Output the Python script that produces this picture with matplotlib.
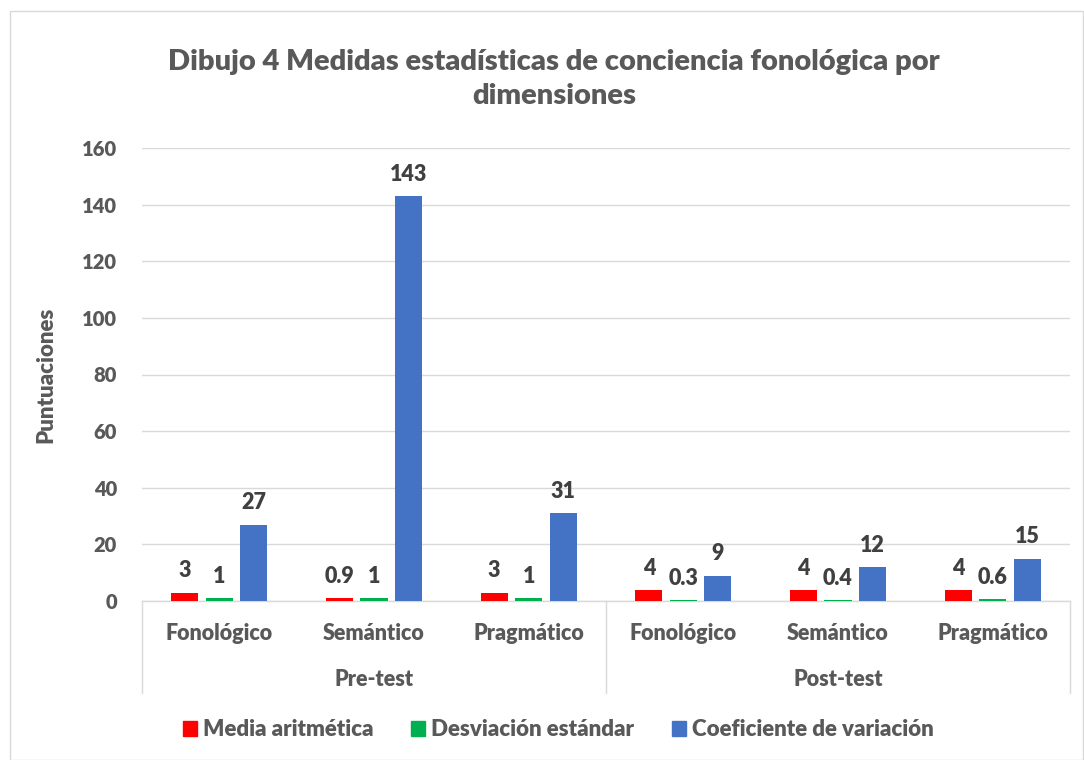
import matplotlib
matplotlib.use("Agg")
import matplotlib.pyplot as plt
from matplotlib.patches import Rectangle, Patch
from matplotlib.lines import Line2D
import numpy as np

plt.rcParams['font.family'] = ['Lato', 'DejaVu Sans']

categories = ["Fonológico", "Semántico", "Pragmático", "Fonológico", "Semántico", "Pragmático"]
groups = ["Pre-test", "Post-test"]
media = [3, 0.9, 3, 4, 4, 4]
desviacion = [1, 1, 1, 0.3, 0.4, 0.6]
coeficiente = [27, 143, 31, 9, 12, 15]
media_labels = ["3", "0.9", "3", "4", "4", "4"]
desv_labels = ["1", "1", "1", "0.3", "0.4", "0.6"]
coef_labels = ["27", "143", "31", "9", "12", "15"]
series_names = ["Media aritmética", "Desviación estándar", "Coeficiente de variación"]
colors = ["#FF0000", "#00B050", "#4472C4"]
yticks = [0, 20, 40, 60, 80, 100, 120, 140, 160]

W, H = 1084, 760
FW = "heavy"
fig = plt.figure(figsize=(W / 100, H / 100), dpi=100)
fig.patches.append(Rectangle((10 / W, 0.5 / H), (W - 11) / W, (H - 11) / H,
                             transform=fig.transFigure, fill=False,
                             edgecolor="#D9D9D9", linewidth=1))

left, right, top, bottom = 142, 1070, 148, 601
ax = fig.add_axes([left / W, 1 - bottom / H, (right - left) / W, (bottom - top) / H])

x = np.arange(len(categories))
bw = 0.175
off = 0.223
txt = "#404040"
lab = "#595959"
for vals, labels, col, dx in [(media, media_labels, colors[0], -off),
                              (desviacion, desv_labels, colors[1], 0),
                              (coeficiente, coef_labels, colors[2], off)]:
    bars = ax.bar(x + dx, vals, bw, color=col, zorder=3)
    for b, l in zip(bars, labels):
        ax.annotate(l, (b.get_x() + b.get_width() / 2, b.get_height()),
                    xytext=(0, 8), textcoords="offset points", ha="center", va="bottom",
                    fontsize=15.5, fontweight=FW, color=txt)

ax.set_xlim(-0.5, len(categories) - 0.5)
ax.set_ylim(0, 160)
ax.set_yticks(yticks)
ax.set_yticklabels([str(t) for t in yticks], fontsize=14.5, fontweight=FW, color=lab)
ax.tick_params(axis="y", length=0, pad=18)
ax.set_xticks([])
ax.grid(axis="y", color="#D9D9D9", linewidth=1, zorder=0)
for s in ["top", "right", "left"]:
    ax.spines[s].set_visible(False)
ax.spines["bottom"].set_color("#D9D9D9")
ax.spines["bottom"].set_linewidth(1)
ax.set_ylabel("Puntuaciones", fontsize=16, fontweight=FW, color=lab, labelpad=18)

# Multi-level category axis
trans = ax.get_xaxis_transform()
cat_y = -(633 - bottom) / (bottom - top)
grp_y = -(680 - bottom) / (bottom - top)
line_bottom = -(693 - bottom) / (bottom - top)
for i, c in enumerate(categories):
    ax.text(i, cat_y, c, transform=trans, ha="center", va="center",
            fontsize=15.5, fontweight=FW, color=lab)
for g, gi in enumerate(groups):
    ax.text(g * 3 + 1, grp_y, gi, transform=trans, ha="center", va="center",
            fontsize=15.5, fontweight=FW, color=lab)
for xv in [-0.5, 2.5, 5.5]:
    ax.add_line(Line2D([xv, xv], [0, line_bottom], transform=trans, color="#D9D9D9",
                       linewidth=1, clip_on=False))

fig.text(554 / W, 1 - 79 / H, "Dibujo 4 Medidas estadísticas de conciencia fonológica por\ndimensiones",
         ha="center", va="center", fontsize=21, fontweight=FW, color=lab, linespacing=1.4)

handles = [Patch(color=c) for c in colors]
fig.legend(handles, series_names, loc="center", bbox_to_anchor=(558 / W, 1 - 730 / H),
           ncol=3, frameon=False, prop={"weight": FW, "size": 16},
           handlelength=0.65, handleheight=0.65, handletextpad=0.25, columnspacing=1.7,
           labelcolor=lab)

fig.savefig("out.png", dpi=100)
